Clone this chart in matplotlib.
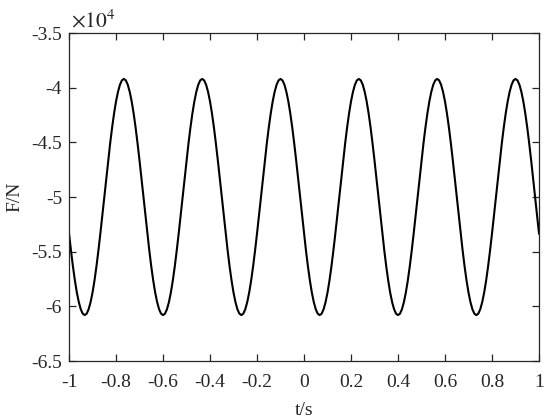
import numpy as np
import matplotlib
matplotlib.use('Agg')
import matplotlib.pyplot as plt

plt.rcParams['font.family'] = ['Liberation Serif', 'DejaVu Serif']
plt.rcParams['axes.unicode_minus'] = False

# time axis, 1/120 s steps from -1 to 1 s
t = np.linspace(-1, 1, 241)

# force in units of 1e4 N
F = [
    -5.334, -5.490, -5.635, -5.764, -5.874, -5.962, -6.027, -6.067, -6.080, -6.067,
    -6.027, -5.962, -5.874, -5.764, -5.635, -5.490, -5.334, -5.169, -5.000, -4.831,
    -4.666, -4.510, -4.365, -4.236, -4.126, -4.038, -3.973, -3.933, -3.920, -3.933,
    -3.973, -4.038, -4.126, -4.236, -4.365, -4.510, -4.666, -4.831, -5.000, -5.169,
    -5.334, -5.490, -5.635, -5.764, -5.874, -5.962, -6.027, -6.067, -6.080, -6.067,
    -6.027, -5.962, -5.874, -5.764, -5.635, -5.490, -5.334, -5.169, -5.000, -4.831,
    -4.666, -4.510, -4.365, -4.236, -4.126, -4.038, -3.973, -3.933, -3.920, -3.933,
    -3.973, -4.038, -4.126, -4.236, -4.365, -4.510, -4.666, -4.831, -5.000, -5.169,
    -5.334, -5.490, -5.635, -5.764, -5.874, -5.962, -6.027, -6.067, -6.080, -6.067,
    -6.027, -5.962, -5.874, -5.764, -5.635, -5.490, -5.334, -5.169, -5.000, -4.831,
    -4.666, -4.510, -4.365, -4.236, -4.126, -4.038, -3.973, -3.933, -3.920, -3.933,
    -3.973, -4.038, -4.126, -4.236, -4.365, -4.510, -4.666, -4.831, -5.000, -5.169,
    -5.334, -5.490, -5.635, -5.764, -5.874, -5.962, -6.027, -6.067, -6.080, -6.067,
    -6.027, -5.962, -5.874, -5.764, -5.635, -5.490, -5.334, -5.169, -5.000, -4.831,
    -4.666, -4.510, -4.365, -4.236, -4.126, -4.038, -3.973, -3.933, -3.920, -3.933,
    -3.973, -4.038, -4.126, -4.236, -4.365, -4.510, -4.666, -4.831, -5.000, -5.169,
    -5.334, -5.490, -5.635, -5.764, -5.874, -5.962, -6.027, -6.067, -6.080, -6.067,
    -6.027, -5.962, -5.874, -5.764, -5.635, -5.490, -5.334, -5.169, -5.000, -4.831,
    -4.666, -4.510, -4.365, -4.236, -4.126, -4.038, -3.973, -3.933, -3.920, -3.933,
    -3.973, -4.038, -4.126, -4.236, -4.365, -4.510, -4.666, -4.831, -5.000, -5.169,
    -5.334, -5.490, -5.635, -5.764, -5.874, -5.962, -6.027, -6.067, -6.080, -6.067,
    -6.027, -5.962, -5.874, -5.764, -5.635, -5.490, -5.334, -5.169, -5.000, -4.831,
    -4.666, -4.510, -4.365, -4.236, -4.126, -4.038, -3.973, -3.933, -3.920, -3.933,
    -3.973, -4.038, -4.126, -4.236, -4.365, -4.510, -4.666, -4.831, -5.000, -5.169,
    -5.334,
]

xticks = [-1, -0.8, -0.6, -0.4, -0.2, 0, 0.2, 0.4, 0.6, 0.8, 1]
xticklabels = ['-1', '-0.8', '-0.6', '-0.4', '-0.2', '0', '0.2', '0.4', '0.6', '0.8', '1']
yticks = [-6.5, -6, -5.5, -5, -4.5, -4, -3.5]
yticklabels = ['-6.5', '-6', '-5.5', '-5', '-4.5', '-4', '-3.5']

fig = plt.figure(figsize=(5.5, 4.19), dpi=100)
ax = fig.add_axes([0.1255, 0.1384, 0.8545, 0.7828])

ax.plot(t, F, color='black', linewidth=1.5)

ax.set_xlim(-1, 1)
ax.set_ylim(-6.5, -3.5)
ax.set_xticks(xticks)
ax.set_xticklabels(xticklabels)
ax.set_yticks(yticks)
ax.set_yticklabels(yticklabels)

for s in ax.spines.values():
    s.set_color('#262626')
    s.set_linewidth(0.9)
ax.tick_params(direction='in', length=5, width=0.9, color='#262626',
               top=True, right=True, labelsize=14, labelcolor='#262626')
ax.tick_params(axis='x', pad=9)
ax.tick_params(axis='y', pad=5)

ax.set_xlabel('t/s', fontsize=14, color='#262626', labelpad=8)
ax.set_ylabel('F/N', fontsize=14, color='#262626', labelpad=6)

ax.text(0.004, 1.016, r'$\times 10^{4}$', transform=ax.transAxes,
        fontsize=15.5, color='#262626', ha='left', va='baseline',
        math_fontfamily='stix')

fig.savefig('out.png', dpi=100)
